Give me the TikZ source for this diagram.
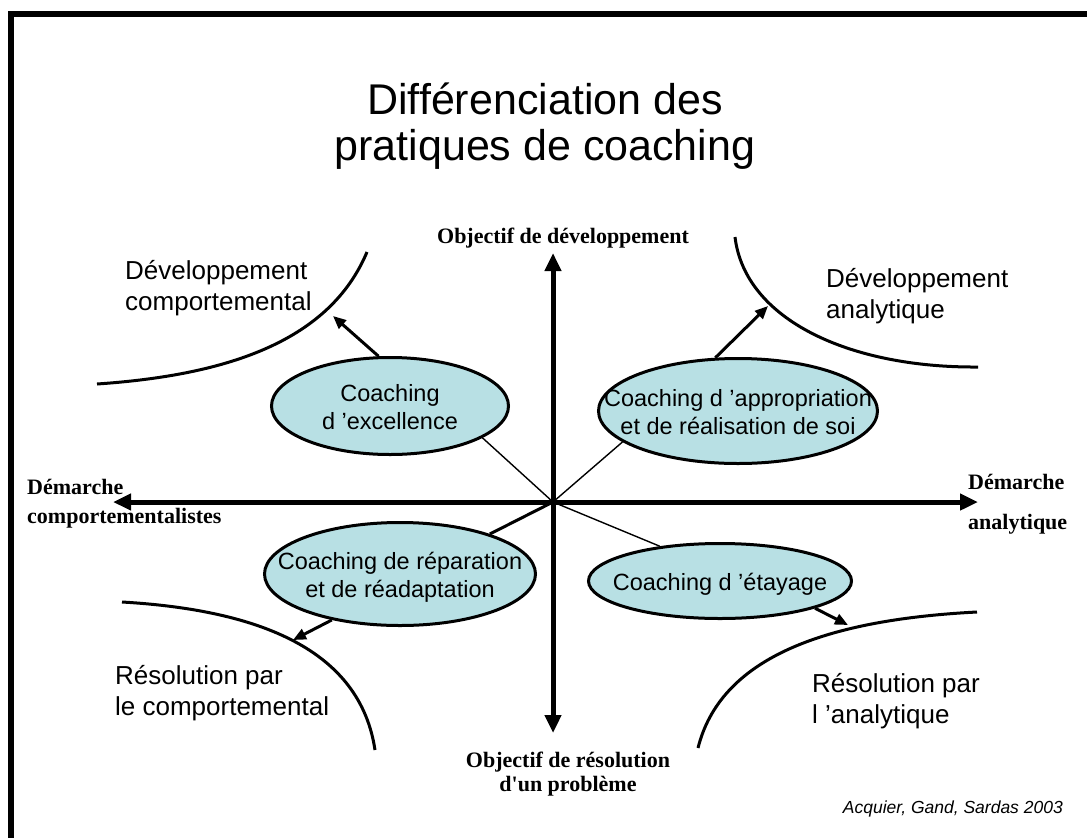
\documentclass[tikz,border=0pt]{standalone}
\usepackage{fontspec}
\setmainfont{Liberation Sans}
\newfontfamily\axefont{Liberation Serif}
\usetikzlibrary{arrows.meta}
\usetikzlibrary{shapes}
\definecolor{coachfill}{RGB}{184,224,228}
\newcommand{\coachtxt}[1]{\makebox[0pt]{\raisebox{-10pt}[0pt][0pt]{\begin{tabular}{@{}c@{}}#1\end{tabular}}}}

\begin{document}
\begin{tikzpicture}[x=1pt, y=-1pt,
	coach/.style 2 args={ellipse, draw, line width=3pt, fill=coachfill, inner sep=0pt, minimum width=#1, minimum height=#2, font=\fontsize{23.5}{28}\selectfont},
	axe/.style={line width=5pt, {Triangle[length=18pt,width=16pt]}-{Triangle[length=18pt,width=16pt]}},
	zone/.style={line width=3pt},
	pointer/.style={line width=3pt, -{Triangle[length=13pt,width=11pt]}},
	ray/.style={line width=1.4pt},
	quad/.style={align=left, anchor=base west, inner sep=0pt, font=\fontsize{26}{31}\selectfont},
	axelab/.style={inner sep=0pt, font=\axefont\bfseries\fontsize{22}{24}\selectfont}]
		\useasboundingbox (0,0) rectangle (1087,838);
		\draw[line width=6pt] (11,838) -- (11,14) -- (1087,14);
		
		\draw (545,126) node[inner sep=0pt, align=center, font=\fontsize{43}{46}\selectfont] (titre) {Différenciation des\\pratiques de coaching};
		
		\coordinate (O) at (553,502);
		\coordinate (haut) at (553,253);
		\coordinate (bas) at (553,733);
		\coordinate (gauche) at (113,502);
		\coordinate (droite) at (978,502);
		
		\draw (390,406) node[coach={237pt}{97pt}] (exc) {\coachtxt{Coaching\\d ’excellence}};
		\draw (738,411) node[coach={279pt}{105pt}] (app) {\coachtxt{Coaching d ’appropriation\\et de réalisation de soi}};
		\draw (400,574) node[coach={271pt}{103pt}] (rep) {\coachtxt{Coaching de réparation\\et de réadaptation}};
		\draw (720,581) node[coach={263pt}{75pt}] (eta) {\coachtxt{Coaching d ’étayage}};
		
		\draw[ray] (O) -- (exc.-19);
		\draw[ray] (O) -- (app.195);
		\draw[zone] (O) -- (rep.24);
		\draw[ray] (O) -- (eta.150);
		
		\draw[axe] (gauche) -- (droite);
		\draw[axe] (haut) -- (bas);
		
		\draw[zone] (97,384) .. controls (230,375) and (330,340) .. (367,252);
		\draw[zone] (735,237) .. controls (745,320) and (850,368) .. (978,367);
		\draw[zone] (122,602) .. controls (260,610) and (360,650) .. (375,750);
		\draw[zone] (698,748) .. controls (720,660) and (820,620) .. (977,612);
		
		\coordinate (tl) at (333,316);
		\coordinate (tr) at (768,306);
		\coordinate (bl) at (293,640);
		\coordinate (br) at (848,625);
		\draw[pointer] (exc.103) -- (tl);
		\draw[pointer] (app.113) -- (tr);
		\draw[pointer] (rep.-146) -- (bl);
		\draw[pointer] (eta.-16) -- (br);
		
		\draw (125,310) node[quad] (devcomp) {Développement\\comportemental};
		\draw (826,318) node[quad] (devana) {Développement\\analytique};
		\draw (115,715) node[quad] (rescomp) {Résolution par\\le comportemental};
		\draw (812,723) node[quad] (resana) {Résolution par\\l ’analytique};
		
		\draw (563,243) node[axelab, anchor=base] (dev) {Objectif de développement};
		\draw (568,752) node[axelab, anchor=north, align=center] (res) {Objectif de résolution\\d'un problème};
		\draw (27,479) node[axelab, anchor=north west, align=left, font=\axefont\bfseries\fontsize{22}{29}\selectfont] (comp) {Démarche\\comportementalistes};
		\draw (968,474) node[axelab, anchor=north west, align=left, font=\axefont\bfseries\fontsize{22}{40}\selectfont] (ana) {Démarche\\analytique};
		
		\draw (1063,813) node[anchor=base east, inner sep=0pt, font=\itshape\fontsize{17.5}{20}\selectfont] (src) {Acquier, Gand, Sardas 2003};
	\end{tikzpicture}
\end{document}
